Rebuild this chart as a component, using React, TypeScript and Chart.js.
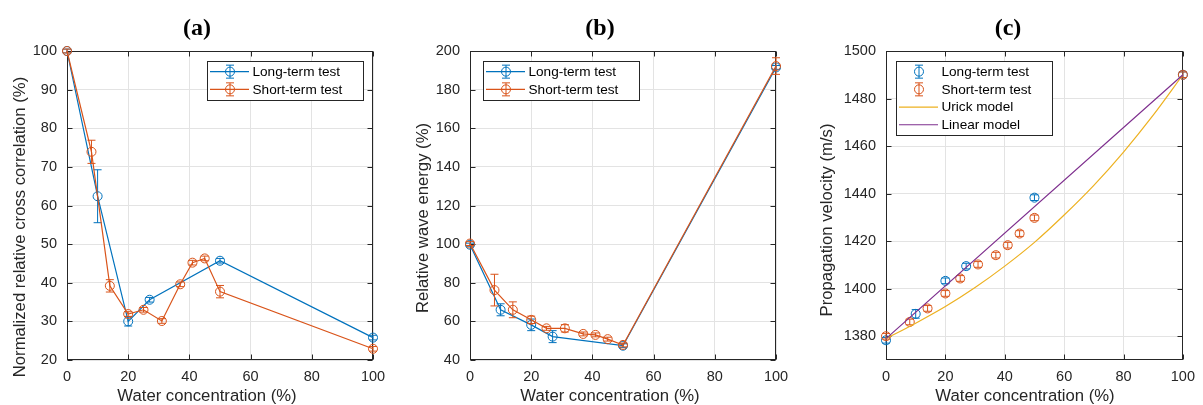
import React, { useEffect, useRef } from "react";
import { Chart, registerables } from "chart.js";

Chart.register(...registerables);

// ---------- data ----------
const longX = [0, 10, 20, 27, 50, 100];
const shortX = [0, 8, 14, 20, 25, 31, 37, 41, 45, 50, 100];

const corrLong = [100, 62.4, 30.0, 35.6, 45.7, 25.8];
const corrLongErr = [0.5, 6.85, 1.2, 0.6, 0.6, 0.6];
const corrShort = [100, 73.9, 39.2, 31.9, 33.0, 30.1, 39.6, 45.2, 46.3, 37.7, 22.9];
const corrShortErr = [0.5, 3.0, 1.6, 0.6, 0.6, 0.6, 0.6, 0.6, 0.6, 1.6, 0.6];

const energyLong = [99.7, 66.0, 58.2, 52.1, 47.4, 191.5];
const energyLongErr = [0.8, 3.1, 3.0, 3.1, 1.0, 1.0];
const energyShort = [100.3, 76.2, 66.0, 60.8, 56.4, 56.4, 53.5, 53.0, 50.8, 47.8, 192.2];
const energyShortErr = [1.0, 8.2, 4.1, 1.9, 1.0, 1.9, 1.0, 1.0, 1.0, 1.0, 4.3];

const velLong = [1378.3, 1389.4, 1403.3, 1409.5, 1438.3, 1490];
const velLongErr = [1.2, 1.8, 1.2, 1.2, 1.2, 1.2];
const velShort = [1380, 1386, 1391.7, 1398, 1404.3, 1410.2, 1414.1, 1418.3, 1423.2, 1429.8, 1490];
const velShortErr = [1.2, 1.2, 1.2, 1.2, 1.2, 1.2, 1.2, 1.2, 1.2, 1.2, 1.2];

const modelX = [0, 10, 20, 30, 40, 50, 60, 70, 80, 90, 100];
const urickModel = [1379, 1385.5, 1392.5, 1400.5, 1409.5, 1419.5, 1431, 1443.5, 1457.5, 1473, 1490];
const linearX = [0, 100];
const linearModel = [1379, 1490];

const xTicks = [0, 20, 40, 60, 80, 100];
const corrTicks = [20, 30, 40, 50, 60, 70, 80, 90, 100];
const energyTicks = [40, 60, 80, 100, 120, 140, 160, 180, 200];
const velTicks = [1380, 1400, 1420, 1440, 1460, 1480, 1500];

const LABEL_LONG = "Long-term test";
const LABEL_SHORT = "Short-term test";
const LABEL_URICK = "Urick model";
const LABEL_LINEAR = "Linear model";

// ---------- styles ----------
const BLUE = "#0072BD";
const ORANGE = "#D95319";
const YELLOW = "#EDB120";
const PURPLE = "#7E2F8E";
const AXIS = "#262626";
const GRID = "#e3e3e3";
const SANS = "'Liberation Sans', Arial, Helvetica, sans-serif";
const SERIF = "'Liberation Serif', 'Times New Roman', serif";
const CAP = 4;

function pts(xs: number[], ys: number[]) {
  return xs.map((x, i) => ({ x, y: ys[i] }));
}

function errSeries(label: string, xs: number[], ys: number[], errs: number[], color: string, line: boolean, order: number) {
  return {
    label,
    data: pts(xs, ys),
    errors: errs,
    borderColor: color,
    backgroundColor: color,
    borderWidth: 1.2,
    showLine: line,
    pointStyle: "circle",
    pointRadius: 4.5,
    pointHoverRadius: 4.5,
    pointBorderWidth: 1,
    pointBackgroundColor: "rgba(0,0,0,0)",
    pointBorderColor: color,
    clip: false,
    order,
    legendLine: line,
    legendMarker: true,
  };
}

function modelSeries(label: string, xs: number[], ys: number[], color: string, order: number) {
  return {
    label,
    data: pts(xs, ys),
    borderColor: color,
    backgroundColor: color,
    borderWidth: 1.2,
    showLine: true,
    pointRadius: 0,
    pointHoverRadius: 0,
    tension: 0.4,
    cubicInterpolationMode: "monotone",
    clip: false,
    order,
    legendLine: true,
    legendMarker: false,
  };
}

// ---------- plugins ----------
const errorBarPlugin = {
  id: "errorBars",
  afterDatasetDraw(chart: any, args: any) {
    const ds = chart.data.datasets[args.index];
    if (!ds.errors) return;
    const { ctx } = chart;
    const xs = chart.scales.x;
    const ys = chart.scales.y;
    ctx.save();
    ctx.strokeStyle = ds.borderColor;
    ctx.lineWidth = 1;
    ds.data.forEach((p: any, i: number) => {
      const e = ds.errors[i];
      const px = xs.getPixelForValue(p.x);
      const y1 = ys.getPixelForValue(p.y + e);
      const y2 = ys.getPixelForValue(p.y - e);
      ctx.beginPath();
      ctx.moveTo(px, y1);
      ctx.lineTo(px, y2);
      ctx.moveTo(px - CAP, y1);
      ctx.lineTo(px + CAP, y1);
      ctx.moveTo(px - CAP, y2);
      ctx.lineTo(px + CAP, y2);
      ctx.stroke();
    });
    ctx.restore();
  },
};

const boxPlugin = {
  id: "matlabBox",
  beforeDatasetsDraw(chart: any) {
    const { ctx, chartArea: a } = chart;
    const l = Math.round(a.left) + 0.5;
    const r = Math.round(a.right) - 0.5;
    const t = Math.round(a.top) + 0.5;
    const b = Math.round(a.bottom) - 0.5;
    ctx.save();
    ctx.strokeStyle = AXIS;
    ctx.lineWidth = 1;
    ctx.strokeRect(l, t, r - l, b - t);
    const TL = 5;
    ctx.beginPath();
    chart.scales.x.ticks.forEach((tk: any) => {
      const px = Math.round(chart.scales.x.getPixelForValue(tk.value)) + 0.5;
      ctx.moveTo(px, b);
      ctx.lineTo(px, b - TL);
      ctx.moveTo(px, t);
      ctx.lineTo(px, t + TL);
    });
    chart.scales.y.ticks.forEach((tk: any) => {
      const py = Math.round(chart.scales.y.getPixelForValue(tk.value)) + 0.5;
      ctx.moveTo(l, py);
      ctx.lineTo(l + TL, py);
      ctx.moveTo(r, py);
      ctx.lineTo(r - TL, py);
    });
    ctx.stroke();
    ctx.restore();
  },
};

const textPlugin = {
  id: "panelTexts",
  afterDraw(chart: any) {
    const o = chart.options.plugins.panelTexts;
    if (!o) return;
    const { ctx } = chart;
    ctx.save();
    ctx.fillStyle = "#000";
    ctx.textAlign = "center";
    ctx.textBaseline = "middle";
    ctx.font = `bold 24px ${SERIF}`;
    ctx.fillText(o.title, o.titleX, o.titleY);
    ctx.fillStyle = AXIS;
    ctx.font = `16.7px ${SANS}`;
    ctx.fillText(o.xTitle, o.xTitleX, o.xTitleY);
    ctx.translate(o.yTitleX, o.yTitleY);
    ctx.rotate(-Math.PI / 2);
    ctx.fillText(o.yTitle, 0, 0);
    ctx.restore();
  },
};

const legendPlugin = {
  id: "panelLegend",
  afterDraw(chart: any) {
    const o = chart.options.plugins.panelLegend;
    if (!o) return;
    const { ctx } = chart;
    const dss = chart.data.datasets;
    const rowH = 17.7;
    const h = dss.length * rowH + 3.5;
    ctx.save();
    ctx.fillStyle = "#fff";
    ctx.fillRect(o.x, o.y, o.w, h);
    ctx.strokeStyle = AXIS;
    ctx.lineWidth = 1;
    ctx.strokeRect(Math.round(o.x) + 0.5, Math.round(o.y) + 0.5, o.w, Math.round(h));
    dss.forEach((ds: any, i: number) => {
      const cy = o.y + 1.8 + rowH * (i + 0.5);
      const mx = o.x + 23;
      ctx.strokeStyle = ds.borderColor;
      if (ds.legendLine) {
        ctx.lineWidth = 1.2;
        ctx.beginPath();
        ctx.moveTo(o.x + 3, cy);
        ctx.lineTo(o.x + 42, cy);
        ctx.stroke();
      }
      if (ds.legendMarker) {
        ctx.lineWidth = 1;
        ctx.beginPath();
        ctx.arc(mx, cy, 4.5, 0, Math.PI * 2);
        ctx.stroke();
        ctx.beginPath();
        ctx.moveTo(mx, cy - 6.5);
        ctx.lineTo(mx, cy + 6.5);
        ctx.moveTo(mx - CAP, cy - 6.5);
        ctx.lineTo(mx + CAP, cy - 6.5);
        ctx.moveTo(mx - CAP, cy + 6.5);
        ctx.lineTo(mx + CAP, cy + 6.5);
        ctx.stroke();
      }
      ctx.fillStyle = "#000";
      ctx.font = `13.6px ${SANS}`;
      ctx.textAlign = "left";
      ctx.textBaseline = "middle";
      ctx.fillText(ds.label, o.x + 45.5, cy + 0.5);
    });
    ctx.restore();
  },
};

// ---------- panels ----------
type PanelCfg = {
  left: number;
  width: number;
  area: { l: number; r: number; t: number; b: number };
  yMin: number;
  yMax: number;
  yTicks: number[];
  texts: any;
  legend: { x: number; y: number; w: number };
  datasets: any[];
};

const H = 405;

const panels: PanelCfg[] = [
  {
    left: 0,
    width: 400,
    area: { l: 67, r: 373, t: 51, b: 360 },
    yMin: 20,
    yMax: 100,
    yTicks: corrTicks,
    texts: {
      title: "(a)", titleX: 197, titleY: 29,
      xTitle: "Water concentration (%)", xTitleX: 207, xTitleY: 396,
      yTitle: "Normalized relative cross correlation (%)", yTitleX: 20, yTitleY: 227,
    },
    legend: { x: 207, y: 61, w: 156 },
    datasets: [
      errSeries(LABEL_LONG, longX, corrLong, corrLongErr, BLUE, true, 2),
      errSeries(LABEL_SHORT, shortX, corrShort, corrShortErr, ORANGE, true, 1),
    ],
  },
  {
    left: 400,
    width: 400,
    area: { l: 70, r: 376, t: 51, b: 360 },
    yMin: 40,
    yMax: 200,
    yTicks: energyTicks,
    texts: {
      title: "(b)", titleX: 200, titleY: 29,
      xTitle: "Water concentration (%)", xTitleX: 210, xTitleY: 396,
      yTitle: "Relative wave energy (%)", yTitleX: 23, yTitleY: 218,
    },
    legend: { x: 83, y: 61, w: 156 },
    datasets: [
      errSeries(LABEL_LONG, longX, energyLong, energyLongErr, BLUE, true, 2),
      errSeries(LABEL_SHORT, shortX, energyShort, energyShortErr, ORANGE, true, 1),
    ],
  },
  {
    left: 800,
    width: 403,
    area: { l: 86, r: 389, t: 51, b: 360 },
    yMin: 1370,
    yMax: 1500,
    yTicks: velTicks,
    texts: {
      title: "(c)", titleX: 208, titleY: 29,
      xTitle: "Water concentration (%)", xTitleX: 225, xTitleY: 396,
      yTitle: "Propagation velocity (m/s)", yTitleX: 27.5, yTitleY: 220,
    },
    legend: { x: 96, y: 61, w: 156 },
    datasets: [
      errSeries(LABEL_LONG, longX, velLong, velLongErr, BLUE, false, 4),
      errSeries(LABEL_SHORT, shortX, velShort, velShortErr, ORANGE, false, 3),
      modelSeries(LABEL_URICK, modelX, urickModel, YELLOW, 2),
      modelSeries(LABEL_LINEAR, linearX, linearModel, PURPLE, 1),
    ],
  },
];

function Panel({ cfg }: { cfg: PanelCfg }) {
  const ref = useRef<HTMLCanvasElement | null>(null);
  useEffect(() => {
    if (!ref.current) return;
    const a = cfg.area;
    const tickFont = { family: SANS, size: 14.5 };
    const chart = new Chart(ref.current, {
      type: "scatter",
      data: { datasets: cfg.datasets as any },
      options: {
        responsive: false,
        animation: false,
        events: [],
        layout: { padding: { left: 0, top: a.t, right: cfg.width - a.r, bottom: 0 } },
        scales: {
          x: {
            type: "linear",
            min: 0,
            max: 100,
            afterBuildTicks: (s: any) => {
              s.ticks = xTicks.map((v) => ({ value: v }));
            },
            afterFit: (s: any) => {
              s.height = H - a.b;
            },
            ticks: {
              color: AXIS,
              font: tickFont,
              padding: 8,
              maxRotation: 0,
              callback: (v: any) => String(v),
            },
            grid: { color: GRID, lineWidth: 1, drawTicks: false },
            border: { display: false },
          },
          y: {
            type: "linear",
            min: cfg.yMin,
            max: cfg.yMax,
            afterBuildTicks: (s: any) => {
              s.ticks = cfg.yTicks.map((v) => ({ value: v }));
            },
            afterFit: (s: any) => {
              s.width = a.l;
            },
            ticks: {
              color: AXIS,
              font: tickFont,
              padding: 10,
              callback: (v: any) => String(v),
            },
            grid: { color: GRID, lineWidth: 1, drawTicks: false },
            border: { display: false },
          },
        },
        plugins: {
          legend: { display: false },
          tooltip: { enabled: false },
          title: { display: false },
          panelTexts: cfg.texts,
          panelLegend: cfg.legend,
        } as any,
      },
      plugins: [boxPlugin, errorBarPlugin, legendPlugin, textPlugin],
    });
    return () => chart.destroy();
  }, [cfg]);
  return (
    <canvas
      ref={ref}
      width={cfg.width}
      height={H}
      style={{ position: "absolute", left: cfg.left, top: 0, width: cfg.width, height: H, display: "block" }}
    />
  );
}

export default function App() {
  return (
    <div style={{ position: "fixed", left: 0, top: 0, width: 1203, height: H, background: "#fff", overflow: "hidden" }}>
      {panels.map((p, i) => (
        <Panel key={i} cfg={p} />
      ))}
    </div>
  );
}
